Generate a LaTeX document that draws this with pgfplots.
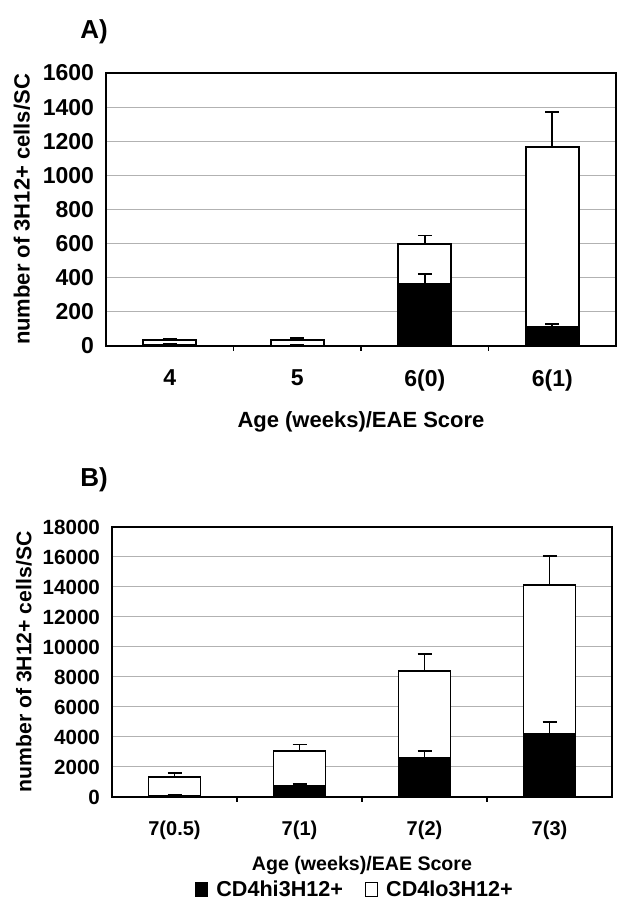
\documentclass[border=0pt]{standalone}
\usepackage{fontspec}
\setmainfont{Liberation Sans}
\usepackage{pgfplots}
\pgfplotsset{compat=1.18}

\pgfplotsset{
  panel/.style={
    scale only axis, anchor=south west,
    ybar, bar shift=0pt,
    xmin=-0.5, xmax=3.5, ymin=0,
    axis line style={line width=1pt},
    ymajorgrids, grid style={gray!60, line width=0.5pt},
    ytick style={draw=none},
    xtick={0.5,1.5,2.5}, xticklabels={,,},
    xtick pos=bottom,
    tick align=outside, major tick length=2.5pt,
    xtick style={black, line width=0.6pt},
    extra x ticks={0,1,2,3},
    extra x tick style={tick style={draw=none}},
    xticklabel style={yshift=-6pt},
    /pgf/number format/assume math mode=true,
    /pgf/number format/set thousands separator={},
    scaled y ticks=false,
    xlabel={Age (weeks)/EAE Score},
    ylabel={number of 3H12+ cells/SC},
  },
  lo/.style={fill=white, draw=black, line width=0.9pt,
    legend image code/.code={\draw[fill=white, draw=black, line width=0.6pt] (0pt,-3.5pt) rectangle (6pt,3.5pt);},
    error bars/.cd, y dir=plus, y explicit,
    error bar style={line width=0.9pt, black},
    error mark options={rotate=90, mark size=3.5pt, line width=0.9pt, black}},
  hi/.style={fill=black, draw=black, line width=0.9pt,
    legend image code/.code={\draw[fill=black, draw=black, line width=0.6pt] (0pt,-3.5pt) rectangle (6pt,3.5pt);},
    error bars/.cd, y dir=plus, y explicit,
    error bar style={line width=0.9pt, black},
    error mark options={rotate=90, mark size=3.5pt, line width=0.9pt, black}},
}

\begin{document}
\begin{tikzpicture}
\useasboundingbox (0,0) rectangle (308.5pt,451.5pt);

\node[font=\fontsize{13}{15}\selectfont\bfseries] at (47pt,435.5pt) {A)};
\node[font=\fontsize{13}{15}\selectfont\bfseries] at (47pt,211.5pt) {B)};

% A) weeks 4-6
\begin{axis}[panel,
  at={(53pt,278.5pt)}, width=255pt, height=136.5pt,
  bar width=26.5pt,
  ymax=1600, ytick={0,200,...,1600},
  extra x tick labels={4,5,6(0),6(1)},
  tick label style={font=\fontsize{11.5}{13}\selectfont\bfseries},
  label style={font=\fontsize{11}{13}\selectfont\bfseries},
  xlabel style={at={(axis description cs:0.5,-0.278)}, anchor=center},
  ylabel style={at={(axis description cs:-0.165,0.5)}, anchor=center},
]
\addplot[lo] coordinates {(0,37) +- (0,6) (1,37) +- (0,10) (2,600) +- (0,47) (3,1166) +- (0,205)};
\addplot[hi] coordinates {(0,8) +- (0,3) (1,3) +- (0,2) (2,365) +- (0,59) (3,111) +- (0,20)};
\end{axis}

% B) week 7
\begin{axis}[panel,
  at={(56pt,53pt)}, width=250pt, height=135pt,
  bar width=26pt,
  ymax=18000, ytick={0,2000,...,18000},
  extra x tick labels={7(0.5),7(1),7(2),7(3)},
  tick label style={font=\fontsize{10}{12}\selectfont\bfseries},
  yticklabel style={font=\fontsize{10.3}{12}\selectfont\bfseries},
  xlabel style={font=\fontsize{9.8}{12}\selectfont\bfseries, at={(axis description cs:0.5,-0.252)}, anchor=center},
  ylabel style={font=\fontsize{10.6}{12}\selectfont\bfseries, at={(axis description cs:-0.176,0.5)}, anchor=center},
  reverse legend,
  legend columns=2,
  legend style={at={(axis description cs:0.488,-0.344)}, anchor=center, draw=none, fill=none,
    font=\fontsize{10.8}{12}\selectfont\bfseries,
    /tikz/every odd column/.append style={column sep=2pt},
    /tikz/every even column/.append style={column sep=9pt}},
]
\addplot[lo] coordinates {(0,1350) +- (0,230) (1,3080) +- (0,420) (2,8380) +- (0,1140) (3,14150) +- (0,1940)};
\addlegendentry{CD4lo3H12+}
\addplot[hi] coordinates {(0,80) +- (0,30) (1,720) +- (0,160) (2,2580) +- (0,500) (3,4200) +- (0,780)};
\addlegendentry{CD4hi3H12+}
\end{axis}
\end{tikzpicture}
\end{document}
